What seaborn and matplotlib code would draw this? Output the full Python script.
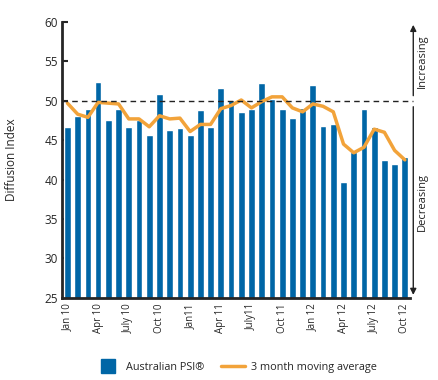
import numpy as np
import pandas as pd
import matplotlib.pyplot as plt
import matplotlib.transforms as mtransforms
from matplotlib.lines import Line2D
import seaborn as sns

# Australian PSI, monthly Jan 2010 - Oct 2012
months = ['Jan 10', 'Feb 10', 'Mar 10', 'Apr 10', 'May 10', 'Jun 10',
          'July 10', 'Aug 10', 'Sep 10', 'Oct 10', 'Nov 10', 'Dec 10',
          'Jan11', 'Feb 11', 'Mar 11', 'Apr 11', 'May 11', 'Jun 11',
          'July11', 'Aug 11', 'Sep 11', 'Oct 11', 'Nov 11', 'Dec 11',
          'Jan 12', 'Feb 12', 'Mar 12', 'Apr 12', 'May 12', 'Jun 12',
          'July 12', 'Aug 12', 'Sep 12', 'Oct 12']
psi = [46.7, 48.1, 49.0, 52.4, 47.6, 49.0, 46.7, 47.6, 45.7, 50.9, 46.3, 46.5,
       45.7, 48.8, 46.7, 51.6, 50.1, 48.6, 49.0, 52.3, 50.2, 49.0, 47.8, 49.1,
       52.0, 46.8, 47.1, 39.7, 43.5, 49.0, 46.7, 42.5, 42.0, 42.9]
moving_avg = [49.7, 48.3, 47.9, 49.8, 49.7, 49.6, 47.7, 47.7, 46.7, 48.1, 47.7, 47.8,
              46.1, 47.0, 47.0, 49.0, 49.4, 50.1, 49.1, 49.9, 50.5, 50.5, 49.1, 48.6,
              49.6, 49.3, 48.6, 44.5, 43.4, 44.1, 46.4, 46.0, 43.7, 42.5]
tick_labels = ['Jan 10', 'Apr 10', 'July 10', 'Oct 10', 'Jan11', 'Apr 11',
               'July11', 'Oct 11', 'Jan 12', 'Apr 12', 'July 12', 'Oct 12']

df = pd.DataFrame({'month': months, 'psi': psi, 'ma': moving_avg})
df['pos'] = np.arange(len(df))

sns.set_style('ticks')
plt.rcParams['font.family'] = ['Open Sans', 'DejaVu Sans']

blue = '#0066a6'
orange = '#f2a33a'

fig = plt.figure(figsize=(4.38, 3.80), dpi=100)
ax = fig.add_axes([0.1416, 0.2166, 0.7944, 0.7254])

sns.barplot(data=df, x='month', y='psi', color=blue, width=0.66,
            saturation=1, ax=ax)
sns.lineplot(data=df, x='pos', y='ma', color=orange, linewidth=2.5, ax=ax)

ax.set_ylim(25, 60)
ax.set_xlim(-0.53, len(df) - 0.5)
ax.set_yticks(range(25, 61, 5))
ax.set_xticks(df['pos'][::3])
ax.set_xticklabels(tick_labels, rotation=90, fontsize=7)
ax.tick_params(axis='y', direction='in', length=4, width=1.5, labelsize=8.5, pad=3)
ax.tick_params(axis='x', length=0, pad=4)
ax.set_xlabel('')
ax.set_ylabel('Diffusion Index', fontsize=8.5, labelpad=19)
sns.despine(ax=ax)
ax.spines['left'].set_linewidth(2)
ax.spines['bottom'].set_linewidth(2)

# 50 line (no change) extending past the plot
ax.axhline(50, xmin=0, xmax=1.01, color='#222222', linestyle='--',
           linewidth=1, dashes=(4, 3), clip_on=False, zorder=4)

# increasing / decreasing arrows on the right
trans = mtransforms.blended_transform_factory(ax.transAxes, ax.transData)
arrow_x = 1.0095
ax.annotate('', xy=(arrow_x, 60), xytext=(arrow_x, 50.3), xycoords=trans,
            textcoords=trans, arrowprops=dict(arrowstyle='-|>', color='#222222',
                                              lw=1, mutation_scale=9),
            annotation_clip=False)
ax.annotate('', xy=(arrow_x, 25), xytext=(arrow_x, 49.6), xycoords=trans,
            textcoords=trans, arrowprops=dict(arrowstyle='-|>', color='#222222',
                                              lw=1, mutation_scale=9),
            annotation_clip=False)
ax.text(1.035, 55, 'Increasing', transform=trans, rotation=90, fontsize=8,
        ha='center', va='center', color='#222222')
ax.text(1.035, 37.2, 'Decreasing', transform=trans, rotation=90, fontsize=8,
        ha='center', va='center', color='#222222')

handles = [Line2D([], [], linestyle='none', marker='s', markersize=10,
                  markerfacecolor=blue, markeredgecolor=blue),
           Line2D([], [], color=orange, linewidth=2.5)]
ax.legend(handles, ['Australian PSI\u00ae', '3 month moving average'],
          loc='center', bbox_to_anchor=(0.54, 0.034), bbox_transform=fig.transFigure,
          ncol=2, frameon=False, fontsize=7.8, handlelength=2.2,
          columnspacing=1.6, handletextpad=0.5)

plt.savefig('out.png', dpi=100)
